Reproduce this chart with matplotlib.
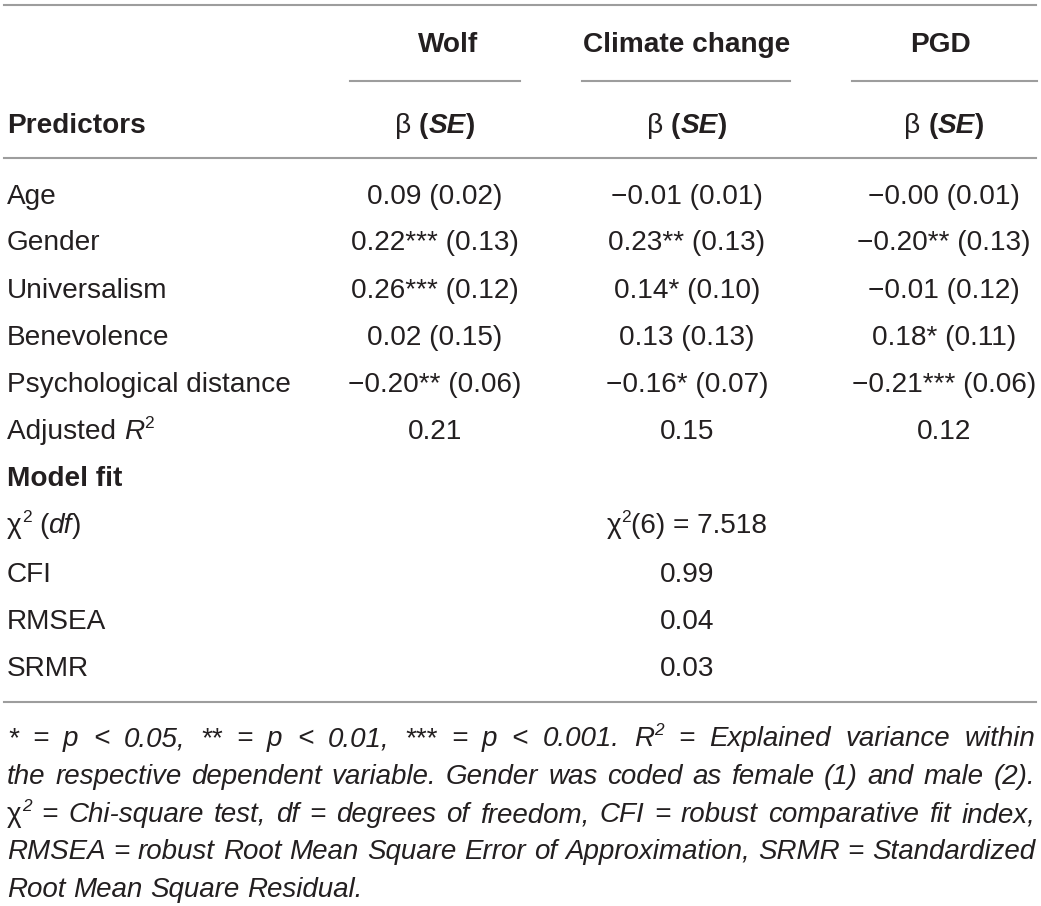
import matplotlib
matplotlib.use("Agg")
import matplotlib.pyplot as plt

plt.rcParams["font.family"] = ["Liberation Sans", "DejaVu Sans"]

# table contents
models = ["Wolf", "Climate change", "PGD"]
predictors = ["Age", "Gender", "Universalism", "Benevolence", "Psychological distance"]
wolf_beta = [0.09, 0.22, 0.26, 0.02, -0.20]
wolf_se = [0.02, 0.13, 0.12, 0.15, 0.06]
wolf_stars = ["", "***", "***", "", "**"]
climate_beta = [-0.01, 0.23, 0.14, 0.13, -0.16]
climate_se = [0.01, 0.13, 0.10, 0.13, 0.07]
climate_stars = ["", "**", "*", "", "*"]
pgd_beta = [-0.00, -0.20, -0.01, 0.18, -0.21]
pgd_se = [0.01, 0.13, 0.12, 0.11, 0.06]
pgd_stars = ["", "**", "", "*", "***"]
adj_r2 = [0.21, 0.15, 0.12]
chi2_df = 6
chi2_val = 7.518
fit_names = ["CFI", "RMSEA", "SRMR"]
fit_values = [0.99, 0.04, 0.03]
footnote = [
    "* = p < 0.05, ** = p < 0.01, *** = p < 0.001. R^2 = Explained variance within",
    "the respective dependent variable. Gender was coded as female (1) and male (2).",
    "χ^2 = Chi-square test, df = degrees of freedom, CFI = robust comparative fit index,",
    "RMSEA = robust Root Mean Square Error of Approximation, SRMR = Standardized",
    "Root Mean Square Residual.",
]

W, H = 1041, 906
TXT = "#231f20"
LINE = "#9d9d9d"
FS = 20.2
FN = 20

fig = plt.figure(figsize=(W / 100, H / 100), dpi=100)
ax = fig.add_axes([0, 0, 1, 1])
ax.set_xlim(0, W)
ax.set_ylim(H, 0)
ax.axis("off")
renderer = fig.canvas.get_renderer()


def fmt(v):
    return f"{v:.2f}".replace("-", "\u2212")


def run_width(txt, size, style, weight):
    t = ax.text(0, 0, txt, fontsize=size, style=style, weight=weight)
    w = t.get_window_extent(renderer).width
    t.remove()
    return w


def space_width(size, style="normal", weight="normal"):
    return run_width("a a", size, style, weight) - run_width("aa", size, style, weight)


def draw_runs(x, y, runs, size=FS, ha="left"):
    """runs: list of (text, style, weight, sup); y is the baseline."""
    widths = []
    for txt, style, weight, sup in runs:
        s = size * 0.62 if sup else size
        widths.append(run_width(txt, s, style, weight) if txt != " " else space_width(size, style, weight))
    total = sum(widths)
    if ha == "center":
        x = x - total / 2
    elif ha == "right":
        x = x - total
    for (txt, style, weight, sup), w in zip(runs, widths):
        if txt != " ":
            s = size * 0.62 if sup else size
            ax.text(x, y - (size * 0.55 if sup else 0), txt, fontsize=s, style=style,
                    weight=weight, color=TXT, va="baseline", ha="left")
        x += w
    return total


def cell(txt, weight="normal"):
    return [(txt, "normal", weight, False)]


# column geometry
label_x = 7
col_x = [435, 687, 944]
head_x = [448, 687, 941]
rule_spans = [(350, 520), (582, 790), (852, 1037)]

# rules
ax.plot([4, 1036], [5, 5], color=LINE, lw=1.5)
for a, b in rule_spans:
    ax.plot([a, b], [81, 81], color=LINE, lw=1.5)
ax.plot([4, 1036], [158, 158], color=LINE, lw=1.5)
ax.plot([4, 1036], [702, 702], color=LINE, lw=1.5)

# header
base = 9
for name, hx in zip(models, head_x):
    draw_runs(hx, 43 + base, cell(name, "bold"), ha="center")
draw_runs(label_x, 124 + base, cell("Predictors", "bold"))
for cx in col_x:
    draw_runs(cx, 124 + base, [("β", "normal", "normal", False), (" ", "normal", "bold", False),
                               ("(", "normal", "bold", False), ("SE", "italic", "bold", False),
                               (")", "normal", "bold", False)], ha="center")

# coefficient rows
row_y = [195, 241, 289, 336, 383]
cols = [(wolf_beta, wolf_se, wolf_stars), (climate_beta, climate_se, climate_stars),
        (pgd_beta, pgd_se, pgd_stars)]
for i, name in enumerate(predictors):
    y = row_y[i] + base
    draw_runs(label_x, y, cell(name))
    for (betas, ses, stars), cx in zip(cols, col_x):
        draw_runs(cx, y, cell(f"{fmt(betas[i])}{stars[i]} ({fmt(ses[i])})"), ha="center")

# adjusted R2
y = 430 + base
draw_runs(label_x, y, [("Adjusted ", "normal", "normal", False), ("R", "italic", "normal", False),
                       ("2", "normal", "normal", True)])
for v, cx in zip(adj_r2, col_x):
    draw_runs(cx, y, cell(f"{v:.2f}"), ha="center")

# model fit
draw_runs(label_x, 477 + base, cell("Model fit", "bold"))
y = 524 + base
draw_runs(label_x, y, [("χ", "normal", "normal", False), ("2", "normal", "normal", True),
                       (" ", "normal", "normal", False), ("(", "normal", "normal", False),
                       ("df", "italic", "normal", False), (")", "normal", "normal", False)])
draw_runs(col_x[1], y, [("χ", "normal", "normal", False), ("2", "normal", "normal", True),
                        (f"({chi2_df}) = {chi2_val:.3f}", "normal", "normal", False)], ha="center")
for name, v, ry in zip(fit_names, fit_values, [573, 620, 667]):
    draw_runs(label_x, ry + base, cell(name))
    draw_runs(col_x[1], ry + base, cell(f"{v:.2f}"), ha="center")


# footnote, justified
def word_runs(word):
    if "^" in word:
        b, s = word.split("^")
        style = "normal" if b == "χ" else "italic"
        return [(b, style, "normal", False), (s, "italic", "normal", True)]
    return [(word, "italic", "normal", False)]


def runs_width(runs, size):
    return sum(run_width(t, size * 0.62 if sup else size, st, wt) for t, st, wt, sup in runs)


fn_y = [738, 776, 814, 851, 889]
left, right = 7, 1035
for k, line in enumerate(footnote):
    words = line.split(" ")
    rw = [word_runs(w) for w in words]
    ws = [runs_width(r, FN) for r in rw]
    if k < len(footnote) - 1:
        gap = (right - left - sum(ws)) / (len(words) - 1)
    else:
        gap = space_width(FN, "italic")
    x = left
    for r, w in zip(rw, ws):
        draw_runs(x, fn_y[k] + 8, r, size=FN)
        x += w + gap

fig.savefig("out.png", dpi=100)
